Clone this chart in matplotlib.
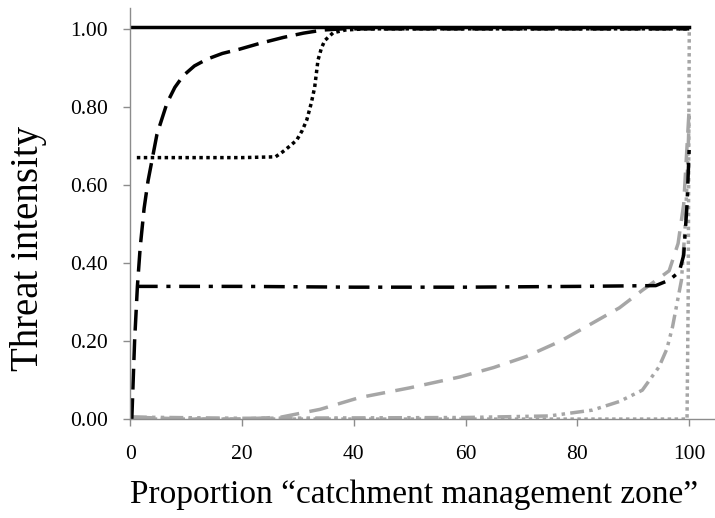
import numpy as np
import matplotlib.pyplot as plt

plt.rcParams['font.family'] = ['Liberation Serif', 'DejaVu Serif']

# curves: x = proportion (%), y = threat intensity
solid_x = [0, 100]
solid_y = [1.005, 1.005]

dash_x = [0.3, 0.8, 1.3, 1.8, 2.5, 3.2, 4.0, 4.8, 5.7, 6.6, 8.0, 9.5, 11.5, 13.7,
          16.5, 19.6, 23.0, 27.4, 31.0, 34.5, 38.0, 100]
dash_y = [0.0, 0.2, 0.34, 0.44, 0.54, 0.61, 0.67, 0.73, 0.77, 0.81, 0.85, 0.88,
          0.905, 0.922, 0.937, 0.948, 0.962, 0.978, 0.989, 0.997, 1.0, 1.0]

dot_x = [1.2, 10, 20, 26, 27.3, 28.6, 29.8, 30.8, 31.6, 32.4, 33.0, 33.6, 34.2,
         34.8, 36.3, 38.5, 42, 100]
dot_y = [0.67, 0.67, 0.67, 0.672, 0.685, 0.70, 0.715, 0.74, 0.767, 0.81, 0.85,
         0.92, 0.95, 0.97, 0.99, 0.997, 1.0, 1.0]

dashdot_x = [1.2, 20, 40, 60, 80, 94, 96.4, 98.2, 99.0, 99.6, 100]
dashdot_y = [0.34, 0.34, 0.338, 0.338, 0.34, 0.342, 0.356, 0.377, 0.42, 0.55, 0.70]

grey_dash_x = [0.5, 10, 20, 27, 34, 41, 50, 59, 65, 70.8, 77, 82.7, 87.5,
               91.6, 94.5, 96.4, 98.0, 99.0, 99.6, 100]
grey_dash_y = [0.005, 0.0, 0.0, 0.005, 0.025, 0.055, 0.08, 0.108, 0.132, 0.16,
               0.2, 0.246, 0.285, 0.33, 0.36, 0.38, 0.45, 0.55, 0.70, 0.80]

grey_dd_x = [0.5, 20, 40, 60, 75, 82.7, 87.5, 91.6, 94.6, 96.0, 97.0, 98.6,
             99.3, 99.7, 100]
grey_dd_y = [0.005, 0.002, 0.003, 0.004, 0.008, 0.023, 0.045, 0.074, 0.134,
             0.18, 0.236, 0.356, 0.50, 0.65, 0.78]

grey_dot_x = [0.5, 50, 99.6, 99.8, 100]
grey_dot_y = [0.0, 0.0, 0.0, 0.3, 1.0]

xticks = [0, 20, 40, 60, 80, 100]
yticks = [0.0, 0.2, 0.4, 0.6, 0.8, 1.0]

grey = '#a6a6a6'

fig = plt.figure(figsize=(7.15, 5.18), dpi=100)
ax = fig.add_axes([0.182, 0.191, 0.818, 0.794])

lw = 2.5
ax.plot(grey_dot_x, grey_dot_y, color=grey, lw=lw, dashes=(1, 1))
ax.plot(grey_dd_x, grey_dd_y, color=grey, lw=lw, dashes=(4, 1.5, 1, 1.5, 1, 1.5))
ax.plot(grey_dash_x, grey_dash_y, color=grey, lw=lw, dashes=(5.5, 3))
ax.plot(dashdot_x, dashdot_y, color='black', lw=lw, dashes=(6, 2.5, 1.2, 2.5))
ax.plot(dot_x, dot_y, color='black', lw=lw, dashes=(1, 1))
ax.plot(dash_x, dash_y, color='black', lw=lw, dashes=(6, 2.5))
ax.plot(solid_x, solid_y, color='black', lw=lw)

ax.set_xlim(0, 104.6)
ax.set_ylim(0, 1.054)
ax.set_xticks(xticks)
ax.set_yticks(yticks)
ax.set_yticklabels([f"{v:.2f}" for v in yticks])

for side in ['top', 'right']:
    ax.spines[side].set_visible(False)
for side in ['left', 'bottom']:
    ax.spines[side].set_color('#8c8c8c')
    ax.spines[side].set_linewidth(1.0)
ax.tick_params(axis='both', direction='out', length=5, width=1.0,
               color='#8c8c8c', labelsize=15.5)
ax.tick_params(axis='x', pad=14)
ax.tick_params(axis='y', pad=11)

ax.set_xlabel("Proportion \u201ccatchment management zone\u201d", fontsize=24)
ax.set_ylabel("Threat intensity", fontsize=28)
ax.xaxis.set_label_coords(0.485, -0.185)
ax.yaxis.set_label_coords(-0.174, 0.414)
ax.xaxis.label.set_va('center')
ax.yaxis.label.set_va('center')

fig.savefig("out.png", dpi=100)
